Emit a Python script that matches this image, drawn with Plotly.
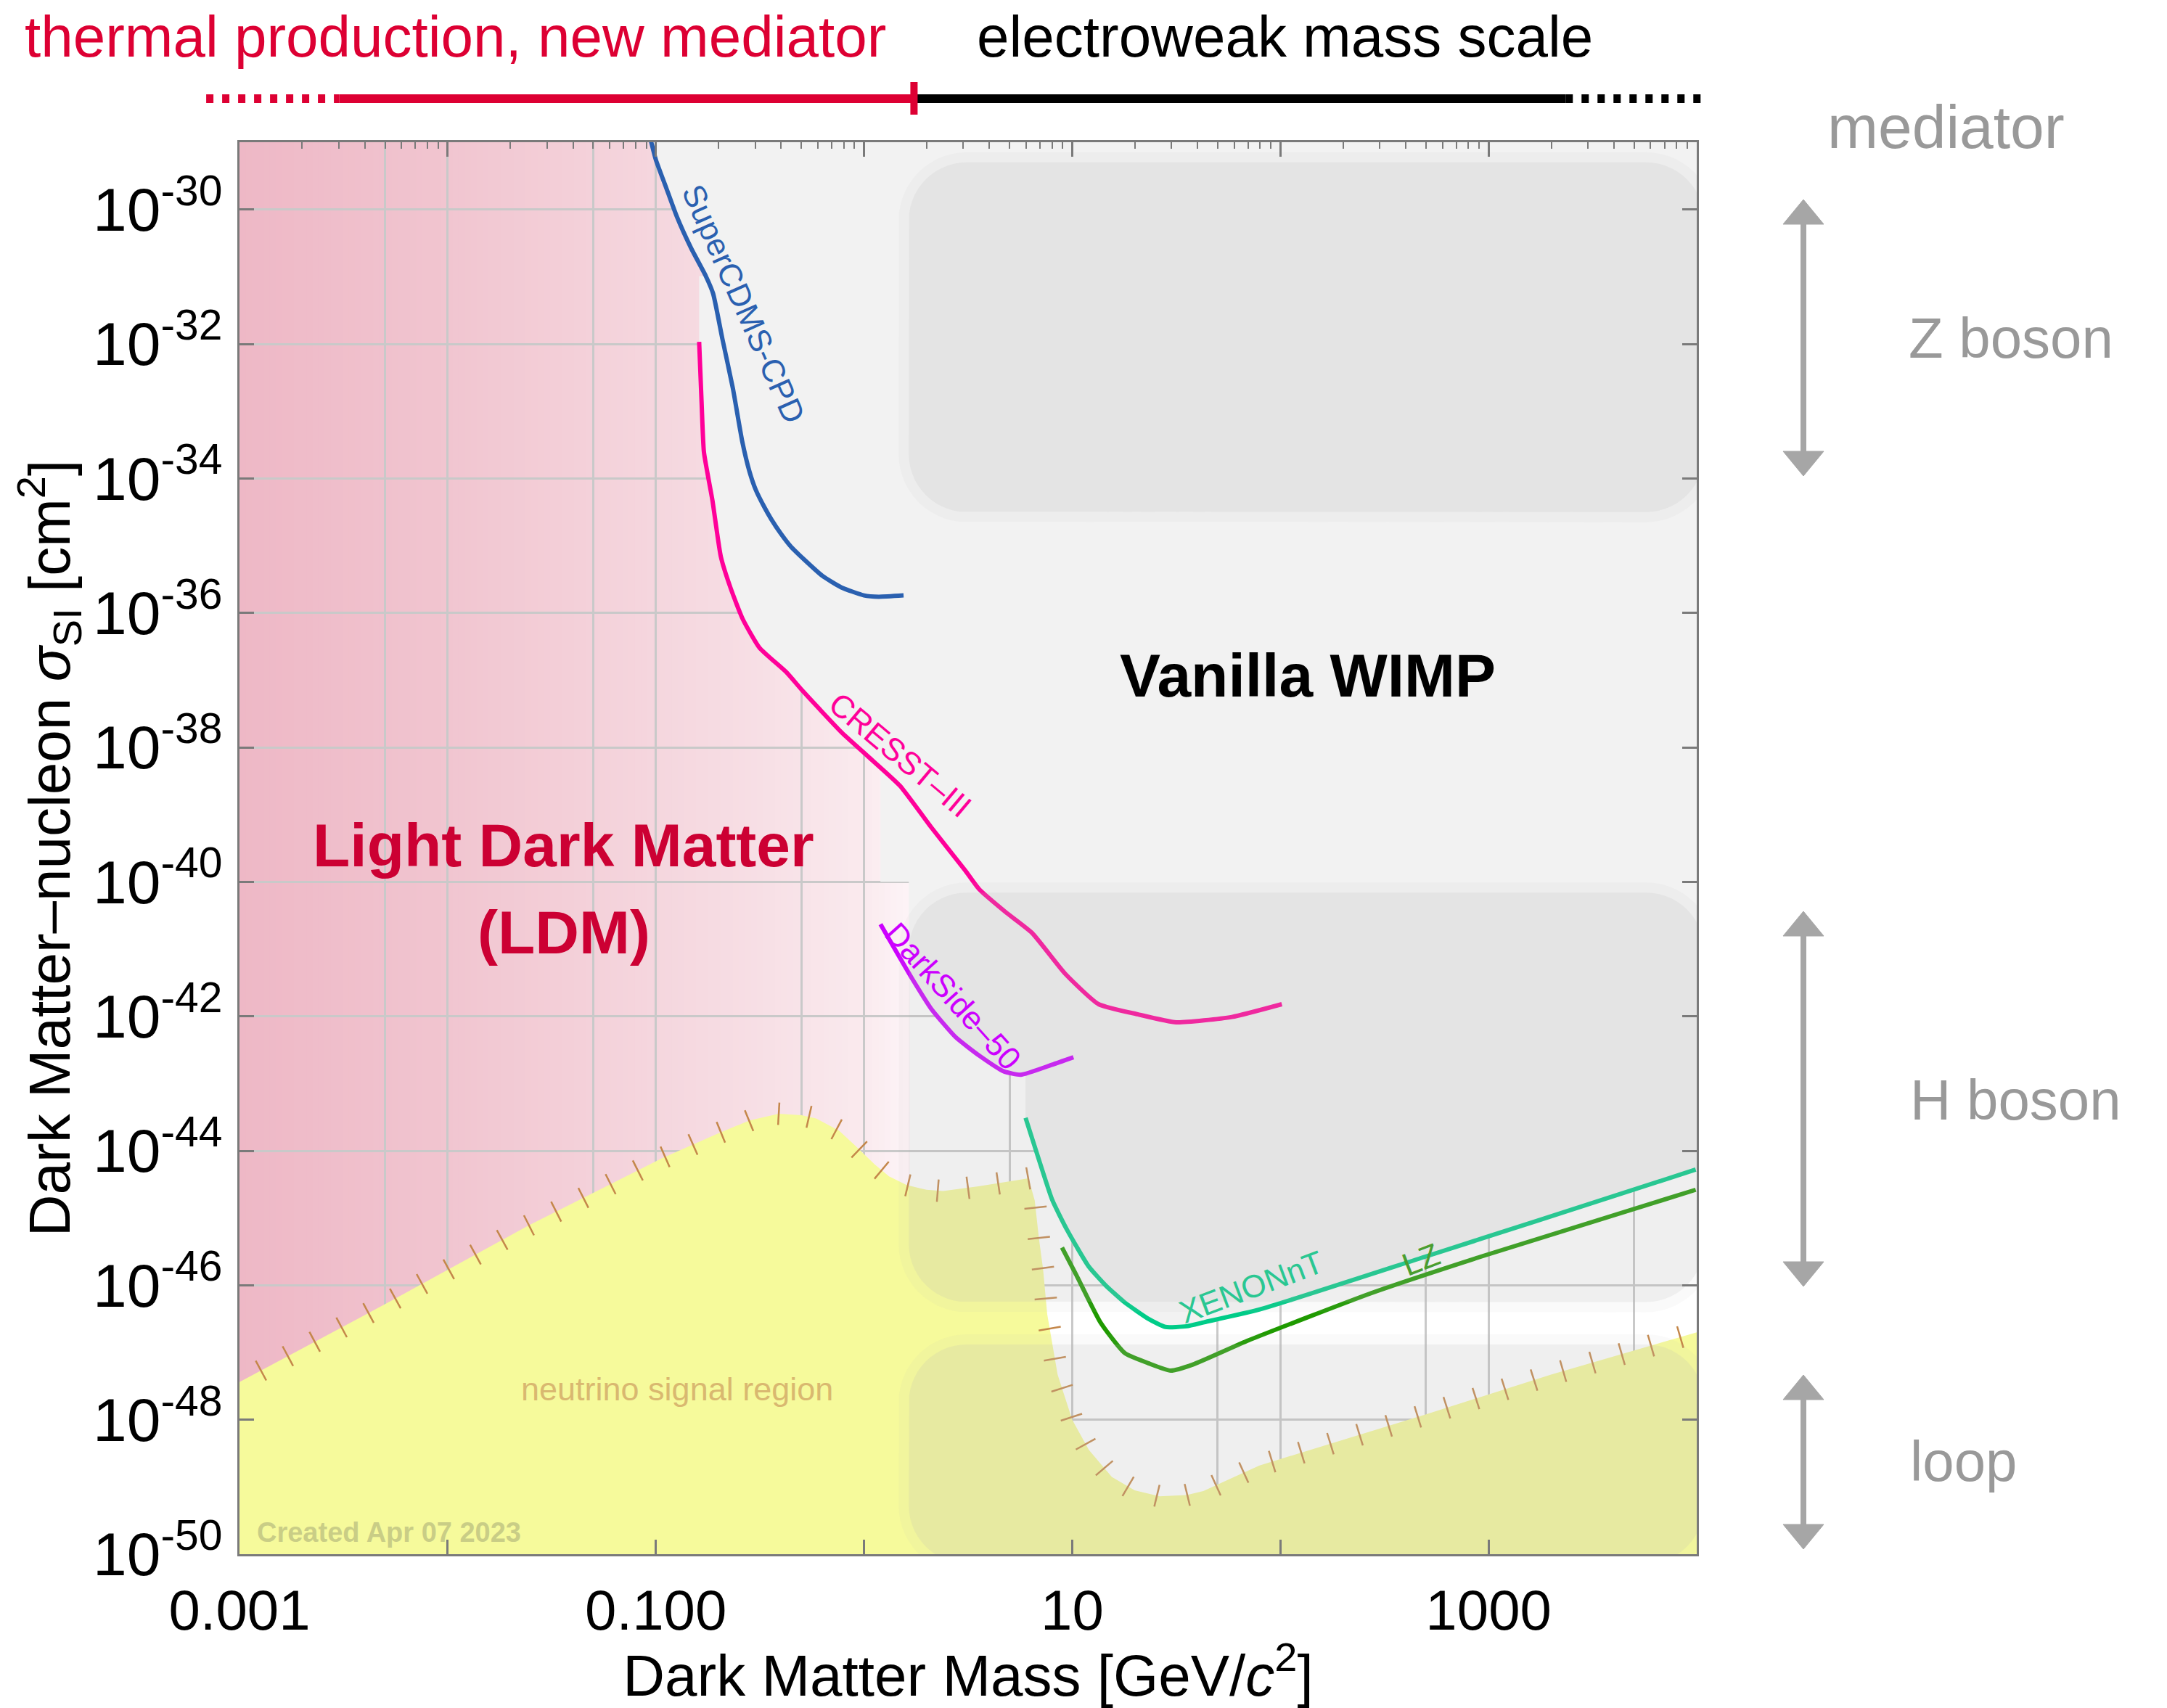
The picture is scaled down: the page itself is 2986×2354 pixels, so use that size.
import math
import numpy as np
import plotly.graph_objects as go

FONT = "Liberation Sans, Arial, Helvetica, sans-serif"

# ---------------- axes (log10 units) and canvas ----------------
X_LOG_RANGE = [-3.0, 4.0]
Y_LOG_RANGE = [-50.0, -29.0]
WIDTH, HEIGHT = 2986, 2354
MARGIN = dict(l=330, r=648, t=196, b=212, pad=0)
PLOT_W = WIDTH - MARGIN["l"] - MARGIN["r"]
PLOT_H = HEIGHT - MARGIN["t"] - MARGIN["b"]
PX_X = PLOT_W / (X_LOG_RANGE[1] - X_LOG_RANGE[0])
PX_Y = PLOT_H / (Y_LOG_RANGE[1] - Y_LOG_RANGE[0])

x_tick_vals = [1e-3, 1e-2, 1e-1, 1.0, 10.0, 100.0, 1e3]
x_tick_text = ["0.001", "", "0.100", "", "10", "", "1000"]
x_grid_minor = [5e-3, 5e-2, 5e-1, 5.0, 50.0, 500.0, 5000.0]
x_top_minor = [m * 10.0 ** k for k in range(-3, 4) for m in range(2, 10)]
y_tick_exp = list(range(-50, -29, 2))

# ---------------- exclusion limits: log10(m/GeV), log10(sigma/cm^2) ----------------
supercdms_logm = [-1.03, -1.00, -0.95, -0.90, -0.83, -0.76, -0.725, -0.68, -0.63, -0.585,
                  -0.55, -0.52, -0.48, -0.445, -0.40, -0.35, -0.29, -0.20, -0.11, 0.00, 0.07, 0.19]
supercdms_logs = [-28.90, -29.26, -29.68, -30.10, -30.58, -30.99, -31.25, -31.93, -32.66, -33.45,
                  -33.90, -34.17, -34.42, -34.61, -34.82, -35.02, -35.20, -35.45, -35.62, -35.74, -35.76, -35.74]

cresst_logm = [-0.792, -0.780, -0.769, -0.728, -0.688, -0.641, -0.583, -0.502, -0.374, -0.292,
               -0.107, 0.021, 0.172, 0.323, 0.486, 0.553, 0.680, 0.807, 0.967, 1.127,
               1.314, 1.500, 1.767, 2.007]
cresst_logs = [-31.97, -32.89, -33.61, -34.33, -35.16, -35.63, -36.09, -36.52, -36.88, -37.17,
               -37.78, -38.14, -38.57, -39.19, -39.83, -40.11, -40.45, -40.76, -41.37, -41.82,
               -41.97, -42.09, -42.01, -41.82]

darkside_logm = [0.079, 0.161, 0.231, 0.323, 0.440, 0.556, 0.672, 0.753, 0.904, 1.006]
darkside_logs = [-40.63, -41.07, -41.44, -41.89, -42.31, -42.59, -42.82, -42.87, -42.72, -42.61]

xenonnt_logm = [0.776, 0.846, 0.904, 0.974, 1.079, 1.160, 1.250, 1.366, 1.447, 1.550,
                1.634, 1.901, 2.701, 3.235, 3.995]
xenonnt_logs = [-43.51, -44.19, -44.73, -45.17, -45.72, -46.00, -46.25, -46.50, -46.62, -46.61,
                -46.55, -46.36, -45.57, -45.04, -44.28]

lz_logm = [0.951, 1.020, 1.137, 1.253, 1.366, 1.473, 1.580, 1.847, 2.434, 2.968, 3.995]
lz_logs = [-45.44, -45.85, -46.56, -47.01, -47.16, -47.27, -47.18, -46.82, -46.12, -45.57, -44.58]

# neutrino signal region (upper edge)
nu_logm = [-3.00, -2.30, -1.61, -0.97, -0.70, -0.55, -0.41, -0.30, -0.23, -0.12, -0.04, 0.05,
           0.12, 0.205, 0.30, 0.38, 0.55, 0.70, 0.79, 0.82, 0.84, 0.86, 0.88, 0.93, 1.00,
           1.08, 1.19, 1.30, 1.42, 1.55, 1.63, 1.90, 2.70, 3.30, 4.00]
nu_logs = [-47.44, -46.28, -45.11, -44.11, -43.74, -43.55, -43.45, -43.47, -43.52, -43.70, -43.93, -44.20,
           -44.38, -44.51, -44.58, -44.60, -44.53, -44.46, -44.41, -44.74, -45.30, -45.76, -46.43, -47.33, -48.00,
           -48.45, -48.85, -49.05, -49.14, -49.12, -49.06, -48.68, -47.92, -47.33, -46.70]

# mediator bands (rounded boxes)
band_names = ["Z boson", "H boson", "loop"]
band_top = [-29.30, -40.16, -46.88]
band_bottom = [-34.50, -46.25, -50.14]
band_left_logm = 0.215
band_right_logm = 4.035

# light-dark-matter shading (horizontal colour ramp)
ldm_ramp_logm = [-3.0, -2.0, -1.0, -0.5, 0.0, 0.215]
ldm_ramp_rgb = [(238, 184, 198), (241, 197, 208), (245, 214, 222), (247, 223, 229),
                (250, 234, 238), (253, 244, 247)]

# mass-scale bar above the plot (log10 GeV)
thermal_dotted = (-3.16, -2.52)
thermal_solid = (-2.52, 0.24)
ew_solid = (0.24, 3.37)
ew_dotted = (3.37, 4.03)

COL_CDMS = "#2a60b0"
COL_CRESST = "#ff0099"
COL_DS = "#cc00ff"
COL_XE = "#00cc88"
COL_LZ = "#1f9a00"
COL_NU = "#f6fa9b"
COL_EXCL = "#f2f2f2"
COL_RED = "#dd0033"


def pw(a):
    return [10.0 ** v for v in a]


def px_to_paper_x(px):
    return (px - MARGIN["l"]) / PLOT_W


def px_to_paper_y(py):
    return (HEIGHT - MARGIN["b"] - py) / PLOT_H


def logm_to_paper(lm):
    return (lm - X_LOG_RANGE[0]) / (X_LOG_RANGE[1] - X_LOG_RANGE[0])


fig = go.Figure()

# ---- LDM colour ramp as background strips (below the grid) ----
shapes = []
n_strip = 110
edges = np.linspace(ldm_ramp_logm[0], ldm_ramp_logm[-1], n_strip + 1)
for i in range(n_strip):
    mid = 0.5 * (edges[i] + edges[i + 1])
    rgb = [int(round(np.interp(mid, ldm_ramp_logm, [c[k] for c in ldm_ramp_rgb]))) for k in range(3)]
    shapes.append(dict(type="rect", xref="x", yref="y", layer="below",
                       x0=10 ** edges[i], x1=10 ** (edges[i + 1] + 0.004),
                       y0=10 ** Y_LOG_RANGE[0], y1=10 ** Y_LOG_RANGE[1],
                       fillcolor=f"rgb({rgb[0]},{rgb[1]},{rgb[2]})", line=dict(width=0)))

# ---- excluded ("Vanilla WIMP") region ----
top_edge = -28.5
bx = supercdms_logm[:6] + [-0.792]
by = supercdms_logs[:6] + [supercdms_logs[5]]
cut = 0.079
for m, s in zip(cresst_logm, cresst_logs):
    if m < cut:
        bx.append(m)
        by.append(s)
bx += [cut, cut, band_left_logm, band_left_logm]
by += [float(np.interp(cut, cresst_logm, cresst_logs)), -40.0, -40.0,
       float(np.interp(band_left_logm, darkside_logm, darkside_logs))]
for m, s in zip(darkside_logm, darkside_logs):
    if band_left_logm < m < xenonnt_logm[0]:
        bx.append(m)
        by.append(s)
bx.append(xenonnt_logm[0])
by.append(float(np.interp(xenonnt_logm[0], darkside_logm, darkside_logs)))
bx += xenonnt_logm + [4.3, 4.3, supercdms_logm[0]]
by += xenonnt_logs + [xenonnt_logs[-1] + 0.3, top_edge, top_edge]
fig.add_trace(go.Scatter(x=pw(bx), y=pw(by), fill="toself", fillcolor=COL_EXCL,
                         mode="lines", line=dict(width=0), hoverinfo="skip", showlegend=False))

# ---- neutrino signal region ----
fig.add_trace(go.Scatter(x=pw(nu_logm + [nu_logm[-1] + 0.3, nu_logm[-1] + 0.3, nu_logm[0] - 0.3, nu_logm[0] - 0.3]),
                         y=pw(nu_logs + [nu_logs[-1], -51, -51, nu_logs[0]]),
                         fill="toself", fillcolor=COL_NU, mode="lines", line=dict(width=0),
                         hoverinfo="skip", showlegend=False))

# ---- limit curves ----
for lm, ls, col in [(supercdms_logm, supercdms_logs, COL_CDMS),
                    (cresst_logm, cresst_logs, COL_CRESST),
                    (darkside_logm, darkside_logs, COL_DS),
                    (xenonnt_logm, xenonnt_logs, COL_XE),
                    (lz_logm, lz_logs, COL_LZ)]:
    fig.add_trace(go.Scatter(x=pw(lm), y=pw(ls), mode="lines",
                             line=dict(color=col, width=6, shape="spline", smoothing=0.5),
                             hoverinfo="skip", showlegend=False))

# ---- hatch ticks along the neutrino-region edge ----
pts = [((m - X_LOG_RANGE[0]) * PX_X, (Y_LOG_RANGE[1] - s) * PX_Y) for m, s in zip(nu_logm, nu_logs)]
seg = [math.hypot(pts[i + 1][0] - pts[i][0], pts[i + 1][1] - pts[i][1]) for i in range(len(pts) - 1)]
cum = np.concatenate([[0.0], np.cumsum(seg)])
spacing = 42.0
hx, hy, ha = [], [], []
for t in np.arange(spacing * 0.8, cum[-1] - 10, spacing):
    i = int(np.searchsorted(cum, t, side="right") - 1)
    i = min(i, len(seg) - 1)
    f = (t - cum[i]) / seg[i]
    x = pts[i][0] + f * (pts[i + 1][0] - pts[i][0])
    y = pts[i][1] + f * (pts[i + 1][1] - pts[i][1])
    ang = math.degrees(math.atan2(pts[i + 1][1] - pts[i][1], pts[i + 1][0] - pts[i][0]))
    hx.append(10 ** (X_LOG_RANGE[0] + x / PX_X))
    hy.append(10 ** (Y_LOG_RANGE[1] - y / PX_Y))
    ha.append(ang)
fig.add_trace(go.Scatter(x=hx, y=hy, mode="markers",
                         marker=dict(symbol="line-ns", size=22, angle=ha,
                                     line=dict(color="#c4874a", width=2.5)),
                         hoverinfo="skip", showlegend=False))


# ---- mediator bands: translucent rounded boxes ----
def rounded_box(l, r, t, b, rad, grow, n=14):
    x0 = (l - X_LOG_RANGE[0]) * PX_X - grow
    x1 = (r - X_LOG_RANGE[0]) * PX_X + grow
    y0 = (Y_LOG_RANGE[1] - t) * PX_Y - grow
    y1 = (Y_LOG_RANGE[1] - b) * PX_Y + grow
    rr = rad + grow
    corners = [(x1 - rr, y0 + rr, -90, 0), (x1 - rr, y1 - rr, 0, 90),
               (x0 + rr, y1 - rr, 90, 180), (x0 + rr, y0 + rr, 180, 270)]
    out = []
    for cx, cy, a0, a1 in corners:
        for k in range(n + 1):
            a = math.radians(a0 + (a1 - a0) * k / n)
            out.append((cx + rr * math.cos(a), cy + rr * math.sin(a)))
    out.append(out[0])
    xs = [10 ** (X_LOG_RANGE[0] + p[0] / PX_X) for p in out]
    ys = [10 ** (Y_LOG_RANGE[1] - p[1] / PX_Y) for p in out]
    return xs, ys


for t, b in zip(band_top, band_bottom):
    for grow, alpha in [(14, 0.07), (0, 0.17)]:
        xs, ys = rounded_box(band_left_logm, band_right_logm, t, b, 80, grow)
        fig.add_trace(go.Scatter(x=xs, y=ys, fill="toself", fillcolor=f"rgba(181,181,181,{alpha})",
                                 mode="lines", line=dict(width=0), hoverinfo="skip", showlegend=False))

# hidden trace to carry the top minor-tick axis
fig.add_trace(go.Scatter(x=[1.0], y=[1e-40], xaxis="x2", mode="markers",
                         marker=dict(opacity=0), hoverinfo="skip", showlegend=False))

# ---- annotations inside the plot (log10 coordinates) ----
ann = []


def label(text, lx, ly, size, color, angle=0, bold=False, xanchor="center"):
    ann.append(dict(x=lx, y=ly, xref="x", yref="y", text=f"<b>{text}</b>" if bold else text,
                    showarrow=False, textangle=angle, xanchor=xanchor, yanchor="middle",
                    font=dict(family=FONT, size=size, color=color)))


label("SuperCDMS-CPD", -0.577, -31.40, 44, COL_CDMS, 66)
label("CRESST–III", 0.176, -38.11, 44, COL_CRESST, 40)
label("DarkSide–50", 0.427, -41.70, 44, COL_DS, 48)
label("XENONnT", 1.860, -46.02, 44, "#2ac792", -20.5)
label("LZ", 2.675, -45.61, 44, "#4a9e30", -21)
label("Vanilla WIMP", 2.131, -36.93, 84, "#000000", bold=True)
label("Light Dark Matter", -1.442, -39.46, 84, "#cc0033", bold=True)
label("(LDM)", -1.442, -40.75, 84, "#cc0033", bold=True)
label("neutrino signal region", -0.898, -47.54, 45, "#d9b870")
label("Created Apr 07 2023", -2.923, -49.68, 38, "#c9cd86", bold=True, xanchor="left")


# ---- decorations outside the plot (paper coordinates) ----
def paper_text(text, px, py, size, color, xanchor="left"):
    ann.append(dict(x=px_to_paper_x(px), y=px_to_paper_y(py), xref="paper", yref="paper",
                    text=text, showarrow=False, xanchor=xanchor, yanchor="middle",
                    font=dict(family=FONT, size=size, color=color)))


paper_text("thermal production, new mediator", 32, 50, 80, COL_RED)
paper_text("electroweak mass scale", 1344, 50, 80, "#000000")
paper_text("mediator", 2681, 175, 84, "#999999", xanchor="center")
paper_text(band_names[0], 2628, 466, 78, "#999999")
paper_text(band_names[1], 2630, 1516, 78, "#999999")
paper_text(band_names[2], 2630, 2014, 78, "#999999")

bar_y = px_to_paper_y(136)
for (a, b), col, dash in [(thermal_dotted, COL_RED, "10px,12px"), (thermal_solid, COL_RED, "solid"),
                          (ew_solid, "#000000", "solid"), (ew_dotted, "#000000", "10px,12px")]:
    shapes.append(dict(type="line", xref="paper", yref="paper", x0=logm_to_paper(a), x1=logm_to_paper(b),
                       y0=bar_y, y1=bar_y, line=dict(color=col, width=12, dash=dash)))
shapes.append(dict(type="line", xref="paper", yref="paper",
                   x0=logm_to_paper(thermal_solid[1]), x1=logm_to_paper(thermal_solid[1]),
                   y0=px_to_paper_y(113), y1=px_to_paper_y(158), line=dict(color=COL_RED, width=10)))

# double-headed arrows for the mediator bands
arrow_px = 2485
arrow_spans = [(275, 656), (1256, 1773), (1895, 2135)]
head_w, head_h = 56, 34
for top, bot in arrow_spans:
    ax = px_to_paper_x(arrow_px)
    shapes.append(dict(type="line", xref="paper", yref="paper", x0=ax, x1=ax,
                       y0=px_to_paper_y(top + head_h - 4), y1=px_to_paper_y(bot - head_h + 4),
                       line=dict(color="#a6a6a6", width=8)))
    for tip, base in [(top, top + head_h), (bot, bot - head_h)]:
        path = (f"M {px_to_paper_x(arrow_px)},{px_to_paper_y(tip)} "
                f"L {px_to_paper_x(arrow_px - head_w / 2)},{px_to_paper_y(base)} "
                f"L {px_to_paper_x(arrow_px + head_w / 2)},{px_to_paper_y(base)} Z")
        shapes.append(dict(type="path", xref="paper", yref="paper", path=path,
                           fillcolor="#a6a6a6", line=dict(color="#a6a6a6", width=1)))

AX_COL = "#7a7a7a"
GRID_COL = "#c9c9c9"
fig.update_layout(
    width=WIDTH, height=HEIGHT, margin=MARGIN,
    paper_bgcolor="white", plot_bgcolor="white",
    font=dict(family=FONT, color="#000000"),
    showlegend=False,
    shapes=shapes, annotations=ann,
    xaxis=dict(type="log", range=X_LOG_RANGE, tickvals=x_tick_vals, ticktext=x_tick_text,
               ticks="inside", ticklen=20, tickwidth=2.5, tickcolor=AX_COL,
               showline=True, linecolor=AX_COL, linewidth=2.5, mirror="ticks",
               showgrid=True, gridcolor=GRID_COL, gridwidth=2.5, zeroline=False,
               minor=dict(tickvals=x_grid_minor, showgrid=True, gridcolor=GRID_COL, gridwidth=2.5,
                          ticklen=0),
               tickfont=dict(family=FONT, size=78, color="#000000"), ticklabelstandoff=8,
               title=dict(text="Dark Matter Mass [GeV/<i>c</i><sup>2</sup>]",
                          font=dict(family=FONT, size=80, color="#000000"), standoff=28),
               automargin=False),
    xaxis2=dict(type="log", range=X_LOG_RANGE, overlaying="x", side="top",
                tickvals=x_top_minor, ticks="inside", ticklen=9, tickwidth=2, tickcolor=AX_COL,
                showticklabels=False, showgrid=False, showline=False, zeroline=False),
    yaxis=dict(type="log", range=Y_LOG_RANGE, tickvals=[10.0 ** e for e in y_tick_exp],
               ticktext=[f"10<sup>-{-e}</sup>" for e in y_tick_exp],
               ticks="inside", ticklen=20, tickwidth=2.5, tickcolor=AX_COL,
               showline=True, linecolor=AX_COL, linewidth=2.5, mirror="ticks",
               showgrid=True, gridcolor=GRID_COL, gridwidth=2.5, zeroline=False,
               tickfont=dict(family=FONT, size=84, color="#000000"), ticklabelstandoff=4,
               title=dict(text="Dark Matter–nucleon <i>σ</i><sub>SI</sub> [cm<sup>2</sup>]",
                          font=dict(family=FONT, size=80, color="#000000"), standoff=6),
               automargin=False),
)

fig.write_html("out.html")
